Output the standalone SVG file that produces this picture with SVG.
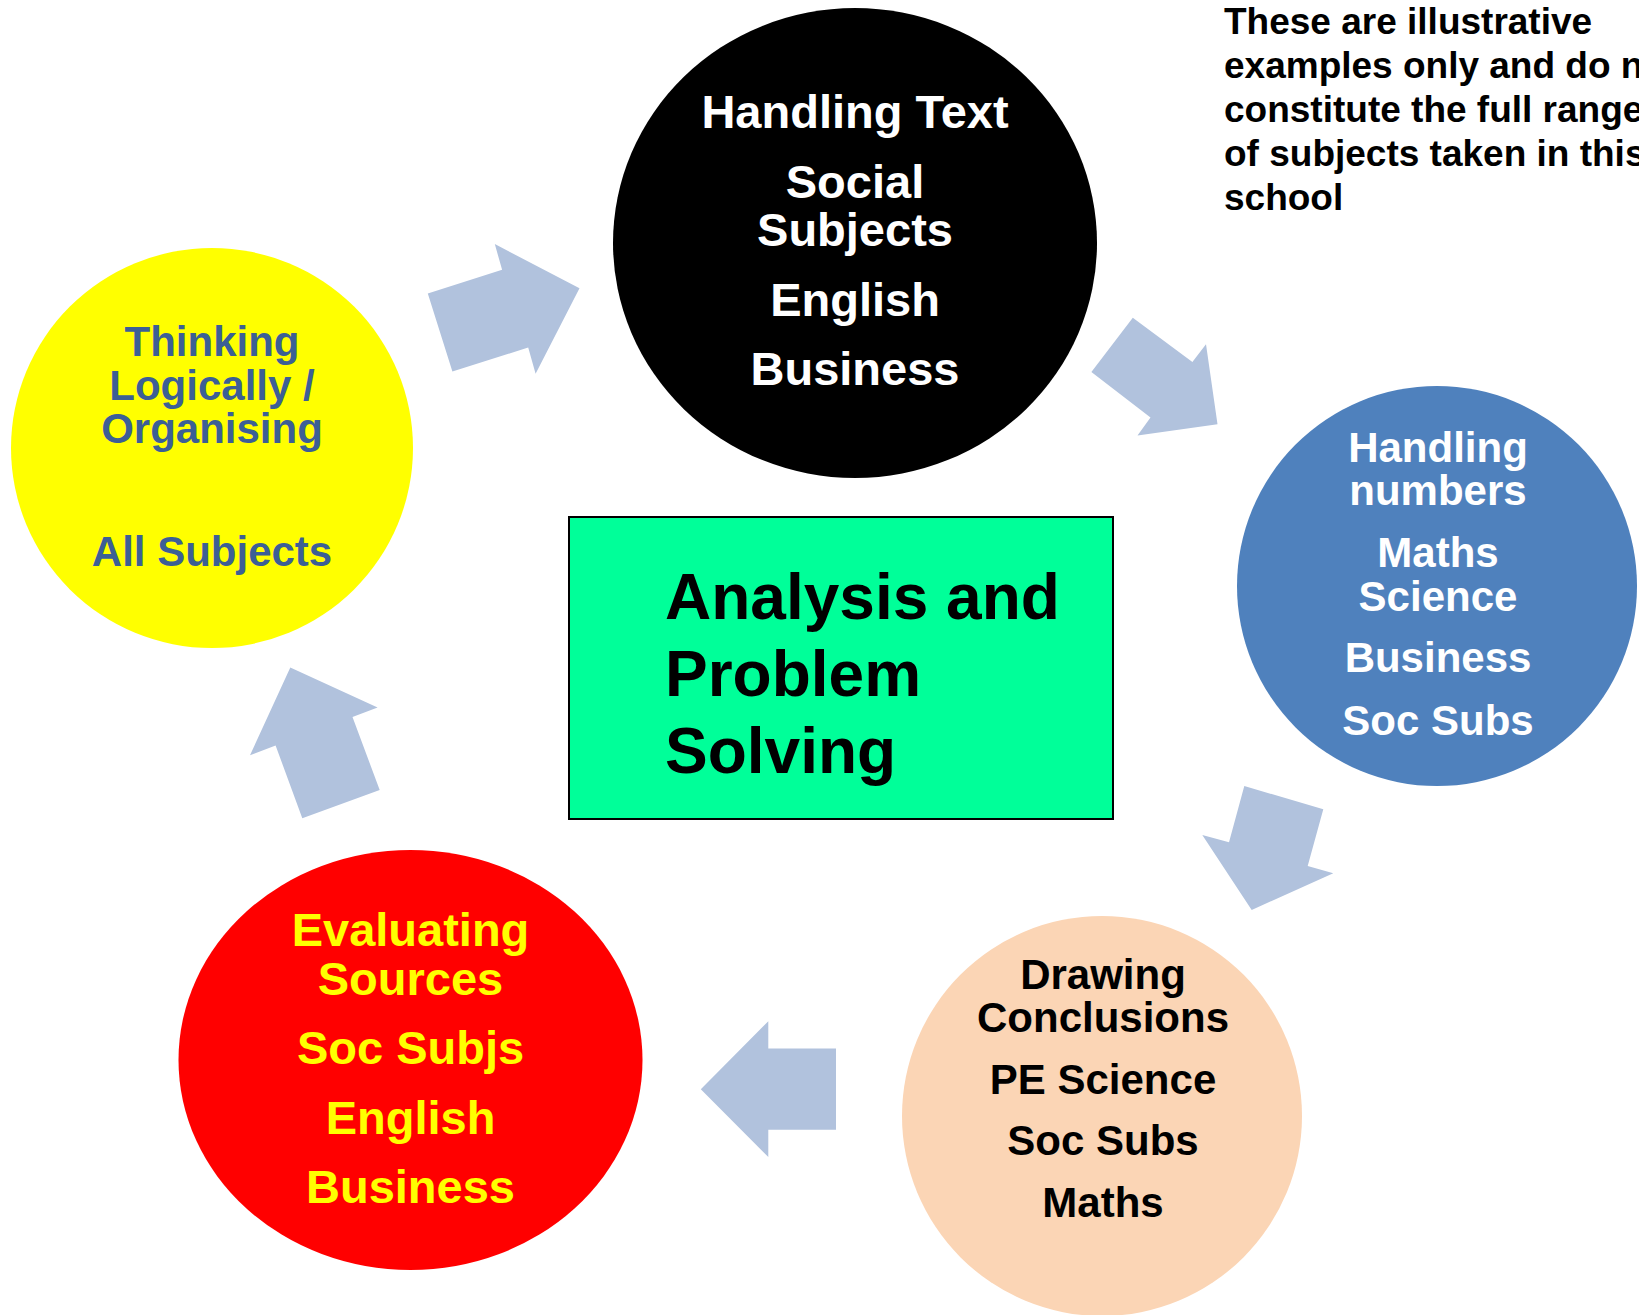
<svg xmlns="http://www.w3.org/2000/svg" width="1639" height="1315" viewBox="0 0 1639 1315">
  <defs>
    <style>
      text { font-family: "Liberation Sans", Arial, sans-serif; font-weight: bold; }
      .c { text-anchor: middle; }
      .arrow { fill: #B1C2DD; stroke: none; }
      .t47 { font-size: 47px; }
      .t42 { font-size: 42px; }
    </style>
  </defs>
  <rect x="0" y="0" width="1639" height="1315" fill="#FFFFFF"/>

  <g id="connectors">
    <polygon class="arrow" points="427.8,293.4 502.1,269.8 494.8,244.1 579.5,288.3 535.6,373.7 528.2,347.6 452.4,371.6"/>
    <polygon class="arrow" points="1091.4,372.1 1132.8,317.8 1192.4,362 1206,344.3 1217.5,424.2 1137.5,435.6 1150.5,417.5"/>
    <polygon class="arrow" points="1244.3,786 1323.3,809.3 1307.7,866 1333.3,873.3 1251.7,910 1202.3,835 1229,842.3"/>
    <polygon class="arrow" points="836,1048.5 768.3,1048.5 768.3,1021.2 700.8,1089.3 768.3,1157.1 768.3,1129.7 836,1129.7"/>
    <polygon class="arrow" points="290.3,667.6 377.6,707.6 352.5,716.9 379.7,790.1 302.3,818.3 275.6,745.5 250,755.2"/>
  </g>

  <g id="node-handling-text">
    <ellipse cx="855" cy="243" rx="242" ry="235" fill="#000000"/>
    <g class="c t47" fill="#FFFFFF">
      <text x="855" y="128.4">Handling Text</text>
      <text x="855" y="197.8">Social</text>
      <text x="855" y="246.2">Subjects</text>
      <text x="855" y="315.7">English</text>
      <text x="855" y="385.1">Business</text>
    </g>
  </g>

  <g id="node-thinking">
    <ellipse cx="212" cy="448" rx="201" ry="200" fill="#FFFF00"/>
    <g class="c t42" fill="#3C5F95">
      <text x="212" y="355.6">Thinking</text>
      <text x="212" y="399.8">Logically /</text>
      <text x="212" y="442.8">Organising</text>
      <text x="212" y="566">All Subjects</text>
    </g>
  </g>

  <g id="node-handling-numbers">
    <ellipse cx="1437" cy="586" rx="200" ry="200" fill="#4F81BD"/>
    <g class="c t42" fill="#FFFFFF">
      <text x="1438" y="462">Handling</text>
      <text x="1438" y="505">numbers</text>
      <text x="1438" y="567">Maths</text>
      <text x="1438" y="611">Science</text>
      <text x="1438" y="672">Business</text>
      <text x="1438" y="735">Soc Subs</text>
    </g>
  </g>

  <g id="node-drawing-conclusions">
    <ellipse cx="1102" cy="1116" rx="200" ry="200" fill="#FBD5B5"/>
    <g class="c t42" fill="#000000">
      <text x="1103" y="988.8">Drawing</text>
      <text x="1103" y="1031.7">Conclusions</text>
      <text x="1103" y="1094">PE Science</text>
      <text x="1103" y="1155">Soc Subs</text>
      <text x="1103" y="1216.9">Maths</text>
    </g>
  </g>

  <g id="node-evaluating-sources">
    <ellipse cx="410.5" cy="1060" rx="232" ry="210" fill="#FF0000"/>
    <g class="c t47" fill="#FFFF00">
      <text x="410.5" y="946.2">Evaluating</text>
      <text x="410.5" y="995">Sources</text>
      <text x="410.5" y="1064">Soc Subjs</text>
      <text x="410.5" y="1133.5">English</text>
      <text x="410.5" y="1203">Business</text>
    </g>
  </g>

  <g id="node-center">
    <rect x="569" y="517" width="544" height="302" fill="#00FF99" stroke="#000000" stroke-width="2"/>
    <g font-size="64" fill="#000000">
      <text x="665" y="619.3">Analysis and</text>
      <text x="665" y="696">Problem</text>
      <text x="665" y="772.7">Solving</text>
    </g>
  </g>

  <g id="note" font-size="37" fill="#000000">
    <text x="1224" y="33.5">These are illustrative</text>
    <text x="1224" y="77.5">examples only and do not</text>
    <text x="1224" y="121.7">constitute the full range</text>
    <text x="1224" y="165.7">of subjects taken in this</text>
    <text x="1224" y="210">school</text>
  </g>
</svg>
